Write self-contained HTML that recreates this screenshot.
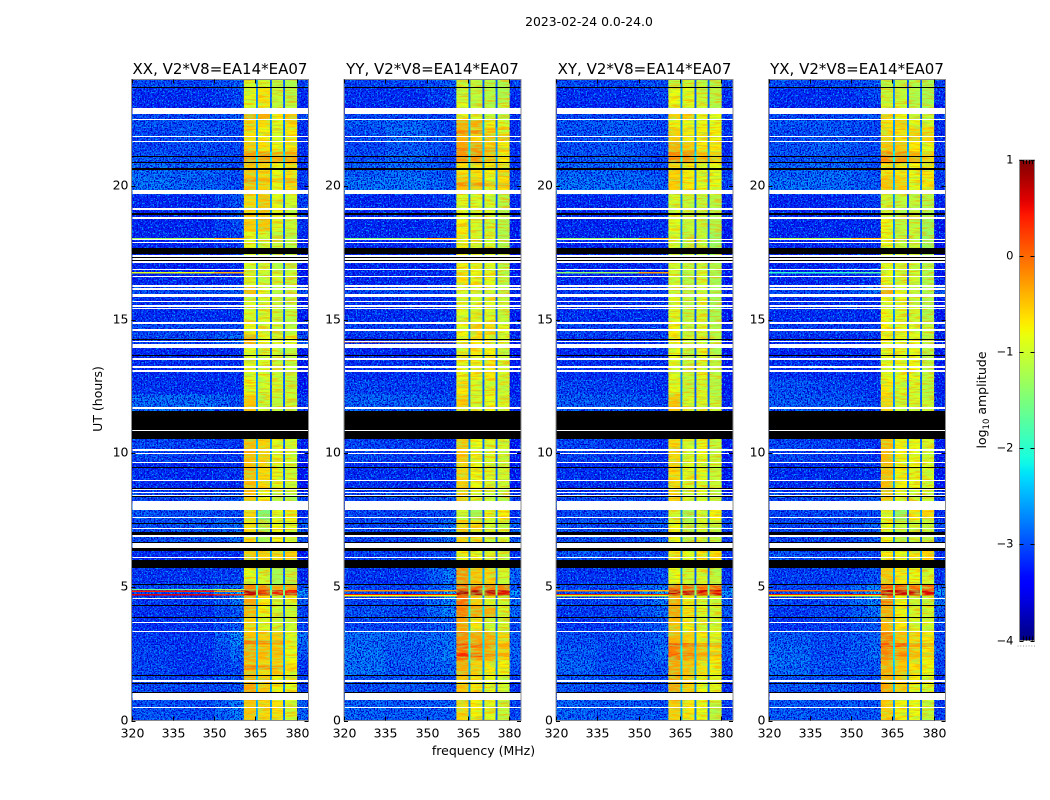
<!DOCTYPE html>
<html lang="en">
<head>
<meta charset="utf-8">
<title>2023-02-24 0.0-24.0</title>
<style>
html,body{margin:0;padding:0;background:#fff;}
svg{display:block;}
text{font-family:"DejaVu Sans","Liberation Sans",sans-serif;fill:#000;}
</style>
</head>
<body>
<svg id="figure" xmlns="http://www.w3.org/2000/svg" width="1050" height="800" viewBox="0 0 1050 800">
  <defs>
    <filter id="speckle-dark" x="0" y="0" width="1" height="1" color-interpolation-filters="sRGB">
      <feTurbulence type="fractalNoise" baseFrequency="0.7" numOctaves="1" seed="4"/>
      <feColorMatrix type="matrix" values="0 0 0 0 0  0 0 0 0 0  0 0 0 0 0.8  8 0 0 0 -3.7"/>
    </filter>
    <filter id="speckle-light" x="0" y="0" width="1" height="1" color-interpolation-filters="sRGB">
      <feTurbulence type="fractalNoise" baseFrequency="0.66" numOctaves="1" seed="11"/>
      <feColorMatrix type="matrix" values="0 0 0 0 0  0 0 0 0 0.62  0 0 0 0 1  0 8 0 0 -4.5"/>
    </filter>
    <filter id="streak-warm" x="0" y="0" width="1" height="1" color-interpolation-filters="sRGB">
      <feTurbulence type="fractalNoise" baseFrequency="0.07 0.62" numOctaves="2" seed="7"/>
      <feColorMatrix type="matrix" values="0 0 0 0 1  0 0 0 0 0.62  0 0 0 0 0  5 0 0 0 -2.3"/>
    </filter>
    <filter id="streak-cool" x="0" y="0" width="1" height="1" color-interpolation-filters="sRGB">
      <feTurbulence type="fractalNoise" baseFrequency="0.09 0.55" numOctaves="2" seed="19"/>
      <feColorMatrix type="matrix" values="0 0 0 0 0.55  0 0 0 0 1  0 0 0 0 0.4  0 5 0 0 -2.3"/>
    </filter>
    <linearGradient id="colorbar-gradient" x1="0" y1="1" x2="0" y2="0"></linearGradient>
  </defs>
  <g id="panels"></g>
  <text x="589" y="26" font-size="12.4" text-anchor="middle">2023-02-24 0.0-24.0</text>
  <text x="483.5" y="755" font-size="12.5" text-anchor="middle">frequency (MHz)</text>
  <text transform="translate(102,399) rotate(-90)" font-size="12.5" text-anchor="middle">UT (hours)</text>
  <g id="colorbar"></g>
  <text transform="translate(986,400) rotate(-90)" font-size="12.5" text-anchor="middle">log<tspan font-size="8.5" dy="3">10</tspan><tspan dy="-3"> amplitude</tspan></text>
</svg>
<script>
// ----- axis data -----
var panelTitles = ['XX, V2*V8=EA14*EA07', 'YY, V2*V8=EA14*EA07', 'XY, V2*V8=EA14*EA07', 'YX, V2*V8=EA14*EA07'];
var freqTicks = [320, 335, 350, 365, 380];
var hourTicks = [0, 5, 10, 15, 20];
var colorbarTicks = [-4, -3, -2, -1, 0, 1];
var freqDomain = [320, 384.3];
var hourDomain = [0, 24];
var levelDomain = [-4, 1];

// ----- heatmap data (log10 amplitude) -----
// Frequency bin edges in MHz; 12 columns:
// low, mid, ramp, shoulder, band1, gap1, band2, gap2, band3, gap3, band4, upper
var freqEdges = [320, 335, 350, 356, 360.8, 365.15, 365.95, 370.3, 371.0, 375.1, 375.85, 380.2, 384.3];
var gapLevels = [-2.7, -2.95, -2.9];
var backgroundBias = -0.12;
// Start (upper edge, UT hours) of each time row; each row ends at the next start
var rowTops = [24,23.7,23.1,22.7,22.5,22.2,21.7,21.3,20.85,20.35,19.7,18.8,18.3,17.45,16.8,16.3,15.85,14.9,14.45,14.05,13.5,12.75,12.2,10.54,9.65,8.6,7.88,7.5,6.35,5.71,5.1,4.88,4.68,4.3,3.85,3.33,2.8,2.25,1.65,0.75];

// Each row: low, mid, shoulder, band1, band2, band3, band4
var xxLevels = [
[-2.8,-2.85,-2.7,-0.95,-0.95,-1.15,-1.2],[-3.0,-3.0,-2.85,-0.85,-0.65,-1.05,-1.15],[-3.05,-3.05,-2.9,-0.9,-0.7,-1.1,-1.1],
[-2.85,-2.85,-2.7,-0.35,-0.35,-0.7,-0.5],[-2.75,-2.8,-2.8,-0.6,-0.6,-0.85,-0.65],[-2.85,-2.75,-2.85,-0.65,-0.75,-0.9,-0.7],
[-2.85,-2.8,-2.85,-0.55,-0.65,-0.8,-0.7],[-2.75,-2.8,-2.85,-0.25,-0.25,-0.35,-0.3],[-2.6,-2.65,-2.8,-0.5,-0.6,-0.8,-0.65],
[-2.55,-2.65,-2.8,-0.5,-0.55,-0.85,-0.65],[-3.05,-3.05,-2.75,-0.6,-0.5,-0.85,-1.0],[-3.05,-3.05,-2.8,-0.55,-0.5,-0.9,-1.05],
[-3.05,-3.05,-2.9,-0.9,-1.0,-1.1,-1.15],[-3.05,-3.1,-3.05,-0.95,-1.0,-1.15,-1.1],[-3.05,-3.05,-3.0,-0.95,-1.05,-0.95,-1.05],
[-2.8,-2.8,-2.7,-0.45,-0.85,-1.1,-1.1],[-3.0,-3.0,-3.0,-0.95,-0.95,-1.05,-1.1],[-2.85,-2.85,-2.85,-0.75,-0.95,-1.05,-1.1],
[-2.85,-2.85,-2.6,-0.35,-0.85,-0.95,-0.85],[-3.05,-3.05,-3.0,-0.85,-0.95,-1.0,-1.1],[-3.0,-3.0,-3.0,-0.9,-0.95,-1.05,-1.05],
[-2.95,-3.0,-3.0,-0.8,-0.95,-0.95,-1.05],[-2.6,-2.6,-2.8,-0.5,-1.0,-1.1,-1.0],[-2.85,-2.9,-2.95,-0.45,-0.55,-0.85,-0.95],
[-3.0,-3.05,-3.0,-0.45,-0.6,-0.85,-1.0],[-2.85,-2.85,-2.75,-0.5,-0.75,-1.1,-1.15],[-2.75,-2.8,-2.85,-0.6,-1.55,-0.9,-0.75],
[-2.8,-2.75,-2.6,-0.65,-1.2,-0.8,-0.9],[-3.0,-3.0,-3.0,-0.5,-0.6,-0.6,-0.55],[-2.95,-2.95,-2.85,-0.85,-1.0,-1.25,-1.1],
[-2.8,-2.8,-2.6,-0.1,-0.1,-0.3,-0.3],[-2.8,-2.75,-2.2,0.7,0.6,0.5,0.5],[-2.9,-2.9,-2.5,-0.3,-0.7,-1.0,-0.9],
[-2.95,-2.95,-2.7,-0.4,-0.8,-1.0,-1.0],[-3.0,-2.95,-2.7,-0.6,-0.9,-1.0,-1.0],[-2.95,-2.95,-2.4,-0.5,-0.55,-0.55,-0.9],
[-2.85,-2.95,-2.6,-0.35,-0.45,-0.5,-0.8],[-2.85,-2.95,-2.8,-0.45,-0.6,-0.6,-0.75],[-2.8,-2.85,-2.75,-0.3,-0.5,-0.75,-0.85],
[-2.75,-2.8,-2.5,-0.5,-0.6,-0.65,-0.95]];

var yyLevels = [
[-2.85,-2.85,-2.7,-1.0,-1.1,-1.15,-1.2],[-3.0,-3.0,-2.85,-1.0,-1.1,-1.15,-1.2],[-3.05,-3.05,-3.0,-0.8,-1.05,-1.15,-1.05],
[-2.85,-2.85,-2.85,-0.75,-0.95,-1.1,-1.1],[-2.7,-2.65,-2.85,-0.35,-0.35,-0.75,-0.95],[-2.8,-2.6,-2.85,-0.4,-0.6,-0.45,-0.5],
[-2.85,-2.7,-2.85,-0.3,-0.3,-0.6,-0.75],[-2.8,-2.65,-2.85,-0.2,-0.2,-0.5,-0.7],[-2.7,-2.6,-2.8,-0.65,-0.65,-0.75,-0.6],
[-2.55,-2.55,-2.75,-0.5,-0.55,-0.85,-0.65],[-3.05,-3.05,-2.9,-0.9,-0.9,-0.95,-1.15],[-3.05,-3.05,-3.0,-0.75,-0.95,-1.0,-1.15],
[-3.05,-3.05,-2.95,-0.7,-0.95,-0.95,-1.2],[-3.05,-3.05,-3.0,-0.75,-0.85,-0.9,-1.1],[-3.05,-3.05,-3.0,-0.65,-0.8,-0.85,-1.1],
[-2.85,-2.85,-2.85,-0.95,-0.95,-0.95,-1.1],[-3.0,-3.0,-3.0,-0.9,-0.9,-0.9,-1.05],[-2.9,-2.9,-2.9,-0.8,-0.6,-0.6,-0.9],
[-3.0,-3.0,-2.95,-0.75,-0.7,-0.75,-1.0],[-3.05,-3.05,-3.0,-0.85,-0.7,-0.75,-1.0],[-3.0,-3.0,-3.0,-0.85,-0.75,-0.7,-0.95],
[-2.85,-2.9,-2.95,-0.7,-0.95,-0.9,-1.0],[-2.65,-2.7,-2.85,-0.55,-0.95,-0.8,-0.95],[-2.85,-2.9,-3.0,-0.5,-0.8,-0.9,-1.0],
[-3.0,-3.0,-3.0,-0.55,-0.8,-0.9,-1.0],[-2.85,-2.85,-2.7,-0.6,-0.95,-1.05,-1.1],[-2.85,-2.85,-2.8,-1.0,-1.3,-0.75,-0.75],
[-2.85,-2.85,-2.55,-0.55,-0.65,-1.0,-1.0],[-2.9,-2.9,-2.8,-0.75,-0.85,-0.95,-0.95],[-2.95,-2.95,-2.5,-0.2,-0.5,-0.6,-1.0],
[-2.85,-2.85,-2.6,0.1,0.05,-0.05,-0.05],[-2.8,-2.8,-2.2,0.8,0.75,0.7,0.6],[-2.85,-2.85,-2.4,0.0,-0.55,-0.9,-0.95],
[-2.75,-2.8,-2.45,-0.1,-0.3,-0.35,-0.95],[-2.85,-2.85,-2.65,-0.3,-0.7,-1.0,-1.0],[-2.6,-2.65,-2.55,-0.1,-0.3,-0.35,-0.6],
[-2.55,-2.7,-2.5,-0.05,-0.25,-0.4,-0.6],[-2.55,-2.7,-2.6,-0.35,-0.55,-0.7,-0.75],[-2.8,-2.75,-2.8,-0.5,-0.7,-0.85,-0.95],
[-2.65,-2.7,-2.7,-0.6,-0.75,-0.85,-1.05]];

var xyLevels = [
[-2.8,-2.85,-2.75,-1.1,-1.0,-1.05,-1.2],[-3.0,-3.0,-2.85,-0.8,-0.85,-1.0,-1.15],[-3.05,-3.05,-2.95,-0.75,-0.9,-1.0,-1.15],
[-2.85,-2.85,-2.8,-0.55,-0.55,-0.85,-0.85],[-2.75,-2.7,-2.85,-0.75,-0.8,-0.85,-0.85],[-2.8,-2.7,-2.85,-0.55,-0.7,-0.75,-0.75],
[-2.8,-2.75,-2.85,-0.4,-0.5,-0.7,-0.7],[-2.75,-2.7,-2.85,-0.15,-0.2,-0.45,-0.55],[-2.65,-2.65,-2.8,-0.6,-0.75,-0.9,-0.85],
[-2.55,-2.6,-2.7,-0.55,-0.7,-0.85,-0.8],[-3.05,-3.05,-2.9,-0.95,-1.05,-1.05,-1.15],[-3.05,-3.05,-3.0,-0.85,-1.05,-1.05,-1.2],
[-3.05,-3.05,-3.0,-0.95,-1.1,-1.05,-1.35],[-3.05,-3.05,-3.0,-1.0,-1.1,-1.0,-1.2],[-3.05,-3.05,-3.0,-1.0,-1.15,-0.95,-1.25],
[-2.9,-2.9,-2.9,-1.0,-1.15,-1.0,-1.25],[-3.0,-3.0,-3.0,-0.9,-1.1,-0.95,-1.25],[-2.85,-2.9,-2.9,-0.75,-1.05,-0.95,-1.15],
[-2.95,-2.95,-2.95,-0.75,-1.0,-0.95,-1.1],[-3.05,-3.05,-3.0,-0.85,-1.1,-0.9,-1.15],[-3.0,-3.0,-3.0,-0.9,-1.05,-0.9,-1.1],
[-2.85,-2.9,-3.0,-0.85,-1.05,-0.95,-1.15],[-2.7,-2.75,-2.9,-0.5,-0.95,-0.9,-1.05],[-2.85,-2.9,-3.0,-0.6,-0.95,-0.85,-1.05],
[-3.0,-3.0,-3.0,-0.6,-0.9,-0.85,-1.05],[-2.85,-2.85,-2.85,-0.6,-0.95,-0.95,-1.1],[-2.85,-2.85,-2.85,-1.0,-1.3,-0.9,-0.75],
[-2.8,-2.85,-2.7,-0.75,-1.15,-0.95,-1.1],[-2.75,-2.85,-2.85,-0.7,-0.85,-0.7,-0.65],[-2.95,-2.95,-2.8,-0.8,-1.0,-0.95,-1.1],
[-2.85,-2.8,-2.5,0.0,0.05,0.0,0.05],[-2.8,-2.75,-2.2,0.7,0.65,0.65,0.6],[-2.85,-2.85,-2.5,-0.35,-0.75,-0.95,-1.0],
[-2.9,-2.85,-2.6,-0.3,-0.65,-0.9,-1.0],[-2.95,-2.9,-2.7,-0.45,-0.75,-0.95,-0.95],[-2.8,-2.8,-2.65,-0.4,-0.55,-0.75,-0.9],
[-2.7,-2.85,-2.6,-0.1,-0.3,-0.5,-0.65],[-2.65,-2.8,-2.75,-0.3,-0.5,-0.65,-0.75],[-2.75,-2.8,-2.85,-0.3,-0.55,-0.8,-0.9],
[-2.65,-2.7,-2.75,-0.55,-0.7,-0.8,-1.1]];

var yxLevels = [
[-2.8,-2.85,-2.75,-1.1,-1.1,-1.15,-1.25],[-3.0,-3.0,-2.85,-1.05,-1.05,-1.15,-1.25],[-3.05,-3.05,-3.0,-0.95,-0.95,-1.15,-1.2],
[-2.85,-2.85,-2.8,-0.55,-0.8,-1.05,-1.05],[-2.75,-2.75,-2.85,-0.65,-0.55,-0.85,-0.95],[-2.8,-2.75,-2.85,-0.6,-0.65,-0.55,-0.6],
[-2.75,-2.7,-2.85,-0.5,-0.5,-0.7,-0.8],[-2.75,-2.7,-2.85,-0.15,-0.2,-0.35,-0.55],[-2.65,-2.6,-2.8,-0.65,-0.7,-0.8,-0.7],
[-2.55,-2.6,-2.75,-0.5,-0.55,-0.85,-0.7],[-3.05,-3.05,-2.9,-1.0,-1.1,-1.1,-1.2],[-3.05,-3.05,-3.0,-0.8,-1.1,-1.05,-1.3],
[-3.05,-3.05,-3.0,-0.85,-1.1,-1.05,-1.35],[-3.05,-3.05,-3.0,-0.85,-1.0,-1.0,-1.2],[-3.05,-3.05,-3.0,-0.85,-1.0,-1.0,-1.2],
[-2.85,-2.85,-2.6,-0.35,-0.8,-1.05,-1.2],[-3.0,-3.0,-3.0,-0.85,-0.9,-1.0,-1.2],[-2.9,-2.9,-2.9,-0.75,-0.85,-0.85,-1.1],
[-3.0,-3.0,-3.0,-0.8,-0.85,-0.85,-1.15],[-3.05,-3.05,-3.0,-0.85,-0.85,-0.85,-1.15],[-3.0,-3.0,-3.0,-0.85,-0.85,-0.8,-1.1],
[-2.75,-2.85,-2.95,-0.7,-0.95,-0.95,-1.1],[-2.7,-2.75,-2.9,-0.6,-1.0,-0.95,-1.05],[-2.85,-2.9,-3.0,-0.45,-0.75,-0.85,-0.95],
[-3.0,-3.0,-3.0,-0.45,-0.75,-0.85,-0.95],[-2.85,-2.85,-2.75,-0.5,-0.85,-1.05,-1.05],[-2.85,-2.85,-2.85,-0.9,-1.4,-0.7,-0.6],
[-2.85,-2.85,-2.7,-0.8,-1.1,-1.05,-1.05],[-2.75,-2.85,-2.85,-0.7,-0.8,-0.65,-0.6],[-2.9,-2.9,-2.8,-0.5,-0.7,-0.8,-0.95],
[-2.85,-2.85,-2.45,0.1,0.15,0.05,0.05],[-2.8,-2.75,-2.2,0.7,0.65,0.65,0.6],[-2.85,-2.85,-2.4,-0.1,-0.8,-1.0,-1.0],
[-2.9,-2.85,-2.55,-0.35,-0.75,-1.0,-0.95],[-2.95,-2.9,-2.7,-0.4,-0.7,-0.95,-0.95],[-2.7,-2.8,-2.65,-0.1,-0.45,-0.6,-0.7],
[-2.6,-2.8,-2.6,-0.15,-0.35,-0.55,-0.7],[-2.6,-2.75,-2.75,-0.35,-0.5,-0.65,-0.8],[-2.75,-2.75,-2.85,-0.35,-0.55,-0.8,-0.9],
[-2.7,-2.75,-2.75,-0.55,-0.75,-0.8,-1.05]];

// Narrow interference rows outside the bands: UT hour, low, mid, shoulder levels
var xxSpikes = [[18.06,-1.3,-1.2,-0.4],[16.79,-0.9,-0.8,-0.4],[4.93,-1.6,-1.6,-1.2],[4.87,0.4,0.4,-0.2],[4.74,0.55,0.55,0.3]];
var yySpikes = [[18.06,-1.5,-1.3,-0.4],[14.2,0.0,-0.3,0.1],[4.89,-0.2,-0.2,-0.3],[4.74,0.4,0.45,0.4],[4.69,-0.8,-0.8,-0.8]];
var xySpikes = [[18.06,-1.4,-1.3,-0.4],[16.79,-1.4,-1.3,-0.3],[4.89,-0.2,-0.2,-0.4],[4.74,0.35,0.35,0.35],[4.69,-1.0,-1.0,-1.0]];
var yxSpikes = [[18.06,-1.2,-1.2,-0.4],[16.79,-2.0,-2.0,-1.8],[4.89,0.0,0.0,-0.1],[4.74,0.4,0.4,0.4],[4.69,-0.9,-0.9,-0.9]];

// Brighter short rows inside the bands: UT hour, band1..band4 levels
var xxBandRows = [[20.3,-0.2,-0.4,-0.5,-0.35],[3.0,-0.05,-0.15,-0.3,-0.7],[2.06,0.0,-0.2,-0.3,-0.6]];
var yyBandRows = [[22.1,-0.15,-0.15,-0.6,-0.9],[21.45,-0.1,-0.2,-0.3,-0.45],[20.15,-0.2,-0.2,-0.4,-0.45],[2.89,0.15,0.0,-0.2,-0.35],[2.52,0.35,0.15,-0.2,-0.35]];
var xyBandRows = [[2.9,0.1,-0.05,-0.3,-0.4],[2.55,0.05,-0.1,-0.3,-0.4]];
var yxBandRows = [[2.9,0.15,0.1,-0.3,-0.4],[2.55,-0.05,-0.1,-0.4,-0.5]];

// Flagged time ranges (UT hours, low/high), the same for every panel
var flaggedWhite = [[22.70,22.92],[22.47,22.52],[21.85,21.90],[21.65,21.70],[19.70,19.85],[19.13,19.18],[18.79,18.84],[17.98,18.03],[17.88,17.93],[17.37,17.42],[17.26,17.31],[17.14,17.19],[16.87,16.92],[16.59,16.64],[16.24,16.29],[16.13,16.18],[15.86,15.98],[15.66,15.71],[15.49,15.56],[15.40,15.45],[14.85,14.91],[14.59,14.64],[14.16,14.21],[14.03,14.08],[13.96,14.01],[13.51,13.56],[13.21,13.26],[13.06,13.11],[11.67,11.72],[10.84,10.89],[10.10,10.15],[9.96,10.01],[9.64,9.69],[8.97,9.02],[8.63,8.68],[8.50,8.55],[8.41,8.46],[7.88,8.21],[7.58,7.63],[7.17,7.22],[6.88,6.93],[6.45,6.65],[6.08,6.13],[4.54,4.59],[3.64,3.69],[3.31,3.36],[1.45,1.50],[0.75,1.02],[0.46,0.51]];
var flaggedBlack = [[23.67,23.72],[21.08,21.12],[20.86,20.90],[20.63,20.68],[18.94,18.99],[17.45,17.70],[17.31,17.35],[17.19,17.24],[14.26,14.30],[13.66,13.70],[10.89,11.59],[10.54,10.84],[9.46,9.50],[8.67,8.71],[8.35,8.40],[7.36,7.40],[7.00,7.04],[6.94,6.98],[6.65,6.70],[6.35,6.45],[5.71,6.00],[5.08,5.12],[4.28,4.32],[3.83,3.87],[1.67,1.71],[1.36,1.40],[1.02,1.07]];

var panelLevels = [xxLevels, yyLevels, xyLevels, yxLevels];
var panelSpikes = [xxSpikes, yySpikes, xySpikes, yxSpikes];
var panelBandRows = [xxBandRows, yyBandRows, xyBandRows, yxBandRows];
var panelKeys = ['xx', 'yy', 'xy', 'yx'];
var plotLefts = [131.5, 344, 556, 768.5];
var plotWidth = 177;
var plotTop = 79.5;
var plotBottom = 720.5;

// Jet colour stops
var jetRed = [[0,0],[0.35,0],[0.66,1],[0.89,1],[1,0.5]];
var jetGreen = [[0,0],[0.125,0],[0.375,1],[0.64,1],[0.91,0],[1,0]];
var jetBlue = [[0,0.5],[0.11,1],[0.34,1],[0.65,0],[1,0]];

var SVGNS = 'http://www.w3.org/2000/svg';

function make(tag, attrs, parent) {
  var el = document.createElementNS(SVGNS, tag);
  for (var k in attrs) el.setAttribute(k, attrs[k]);
  if (parent) parent.appendChild(el);
  return el;
}
function channel(stops, t) {
  for (var i = 1; i < stops.length; i++) {
    if (t <= stops[i][0]) {
      var a = stops[i - 1], b = stops[i];
      return a[1] + (b[1] - a[1]) * (t - a[0]) / (b[0] - a[0]);
    }
  }
  return stops[stops.length - 1][1];
}
function colorScale(level) {
  var t = (level - levelDomain[0]) / (levelDomain[1] - levelDomain[0]);
  t = Math.max(0, Math.min(1, t));
  return 'rgb(' + Math.round(255 * channel(jetRed, t)) + ',' +
    Math.round(255 * channel(jetGreen, t)) + ',' +
    Math.round(255 * channel(jetBlue, t)) + ')';
}
function xScale(left, mhz) {
  return left + (mhz - freqDomain[0]) / (freqDomain[1] - freqDomain[0]) * plotWidth;
}
function yScale(hour) {
  return plotBottom - (hour - hourDomain[0]) / (hourDomain[1] - hourDomain[0]) * (plotBottom - plotTop);
}
function columnLevels(row) {
  var low = row[0] + backgroundBias, mid = row[1] + backgroundBias, shoulder = row[2] + backgroundBias;
  var band1 = row[3], band2 = row[4], band3 = row[5], band4 = row[6];
  return [low, mid, (mid + shoulder) / 2, shoulder, band1,
    Math.max(gapLevels[0], (band1 + band2) / 2 - 2), band2,
    Math.max(gapLevels[1], (band2 + band3) / 2 - 2), band3,
    Math.max(gapLevels[2], (band3 + band4) / 2 - 2), band4,
    shoulder - 0.15];
}

var panelsRoot = document.getElementById('panels');

panelLevels.forEach(function (levels, p) {
  var left = plotLefts[p];
  var key = panelKeys[p];
  var right = left + plotWidth;
  var g = make('g', {}, panelsRoot);
  
  
  var clipId = 'clip-' + key;
  var clip = make('clipPath', { id: clipId }, g);
  make('rect', { x: left, y: plotTop, width: plotWidth, height: plotBottom - plotTop }, clip);
  var heat = make('g', { 'clip-path': 'url(#' + clipId + ')', 'shape-rendering': 'crispEdges' }, g);

  // cells: one per time row and frequency bin
  levels.forEach(function (row, r) {
    var top = yScale(rowTops[r]);
    var bottom = yScale(r + 1 < rowTops.length ? rowTops[r + 1] : hourDomain[0]);
    columnLevels(row).forEach(function (level, c) {
      var x0 = xScale(left, freqEdges[c]);
      var x1 = xScale(left, freqEdges[c + 1]);
      var cell = make('rect', { x: x0, y: top, width: x1 - x0 + 0.6, height: bottom - top + 0.6, fill: colorScale(level) }, heat);
      
      
    });
  });

  // brighter rows inside the bands
  panelBandRows[p].forEach(function (bandRow) {
    for (var b = 0; b < 4; b++) {
      var x0 = xScale(left, freqEdges[4 + b * 2]);
      var x1 = xScale(left, freqEdges[5 + b * 2]);
      var mark = make('rect', { x: x0, y: yScale(bandRow[0]), width: x1 - x0, height: 4, fill: colorScale(bandRow[b + 1]) }, heat);
      
      
    }
  });

  // texture overlays: speckle outside the bands, streaks only on the bands so gaps stay blue
  var bgEnd = xScale(left, freqEdges[4]);
  var bandEnd = xScale(left, freqEdges[11]);
  ['speckle-dark', 'speckle-light'].forEach(function (f) {
    make('rect', { x: left, y: plotTop, width: bgEnd - left, height: plotBottom - plotTop, filter: 'url(#' + f + ')' }, heat);
    make('rect', { x: bandEnd, y: plotTop, width: right - bandEnd, height: plotBottom - plotTop, filter: 'url(#' + f + ')' }, heat);
  });
  [['streak-warm', 0.6], ['streak-cool', 0.5]].forEach(function (f) {
    for (var b = 0; b < 4; b++) {
      var x0 = xScale(left, freqEdges[4 + b * 2]);
      var x1 = xScale(left, freqEdges[5 + b * 2]);
      make('rect', { x: x0, y: plotTop, width: x1 - x0, height: plotBottom - plotTop, filter: 'url(#' + f[0] + ')', opacity: f[1] }, heat);
    }
  });

  // interference rows
  panelSpikes[p].forEach(function (spike) {
    for (var c = 0; c < 4; c++) {
      var x0 = xScale(left, freqEdges[c]);
      var x1 = xScale(left, freqEdges[c + 1]);
      var mark = make('rect', { x: x0, y: yScale(spike[0]), width: x1 - x0 + 0.6, height: 1.4, fill: colorScale(spike[Math.min(c, 2) + 1]) }, heat);
      
      
    }
  });

  // flagged rows
  flaggedWhite.forEach(function (range) {
    var y0 = Math.round(yScale(range[1]));
    var band = make('rect', { x: left + 1, y: y0, width: plotWidth - 1, height: Math.max(1, Math.round(yScale(range[0])) - y0), fill: '#fff' }, heat);
    
    
  });
  flaggedBlack.forEach(function (range) {
    var y0 = Math.round(yScale(range[1]));
    var band = make('rect', { x: left, y: y0, width: plotWidth, height: Math.max(1, Math.round(yScale(range[0])) - y0), fill: '#000' }, heat);
    
    
  });

  // frame
  var frame = make('rect', { x: left, y: plotTop, width: plotWidth, height: plotBottom - plotTop, fill: 'none', stroke: '#8c8c8c', 'stroke-width': 1 }, g);
  
  

  // x ticks
  freqTicks.forEach(function (f) {
    var x = Math.round(xScale(left, f)) + 0.5;
    make('line', { x1: x, x2: x, y1: plotBottom, y2: plotBottom - 4, stroke: '#000' }, g);
    make('line', { x1: x, x2: x, y1: plotTop, y2: plotTop + 4, stroke: '#000' }, g);
    var label = make('text', { x: x, y: plotBottom + 17, 'font-size': 12.5, 'text-anchor': 'middle' }, g);
    label.textContent = f;
    
    
  });

  // y ticks
  hourTicks.forEach(function (h) {
    var y = Math.round(yScale(h)) + 0.5;
    make('line', { x1: left, x2: left + 4, y1: y, y2: y, stroke: '#000' }, g);
    make('line', { x1: right, x2: right - 4, y1: y, y2: y, stroke: '#000' }, g);
    var label = make('text', { x: left - 3, y: y + 3, 'font-size': 12.5, 'text-anchor': 'end' }, g);
    label.textContent = h;
    
    
  });

  // title
  var title = make('text', { x: left + plotWidth / 2, y: 74, 'font-size': 15, 'text-anchor': 'middle' }, g);
  title.textContent = panelTitles[p];
  
  
});

// ----- colorbar -----
var cbLeft = 1019.5, cbRight = 1034.5, cbTop = 160, cbBottom = 640.5;
function cbScale(level) {
  return cbBottom - (level - levelDomain[0]) / (levelDomain[1] - levelDomain[0]) * (cbBottom - cbTop);
}
var gradient = document.getElementById('colorbar-gradient');
for (var s = 0; s <= 60; s++) {
  make('stop', { offset: (s / 60 * 100) + '%', 'stop-color': colorScale(levelDomain[0] + (levelDomain[1] - levelDomain[0]) * s / 60) }, gradient);
}
var cb = document.getElementById('colorbar');
var cbRect = make('rect', { x: cbLeft, y: cbTop, width: cbRight - cbLeft, height: cbBottom - cbTop, fill: 'url(#colorbar-gradient)', stroke: '#8c8c8c' }, cb);


colorbarTicks.forEach(function (v) {
  var y = Math.round(cbScale(v)) + 0.5;
  make('line', { x1: cbLeft, x2: cbLeft + 4, y1: y, y2: y, stroke: '#000' }, cb);
  make('line', { x1: cbRight, x2: cbRight - 4, y1: y, y2: y, stroke: '#000' }, cb);
  var label = make('text', { x: cbLeft - 6, y: y + 3, 'font-size': 11.5, 'text-anchor': 'end' }, cb);
  label.textContent = String(v).replace('-', '\u2212');
  
  
});
for (var m = 1; m < 5; m++) {
  var mx = Math.round(cbLeft + (cbRight - cbLeft) * m / 5) + 0.5;
  make('line', { x1: mx, x2: mx, y1: cbTop, y2: cbTop + 4, stroke: '#000' }, cb);
  make('line', { x1: mx, x2: mx, y1: cbBottom, y2: cbBottom - 4, stroke: '#000' }, cb);
}
for (var d = 0; d < 7; d++) {
  make('rect', { x: 1017.5 + d * 2.75, y: 645.5, width: 1, height: 1, fill: '#999' }, cb);
}
</script>
</body>
</html>
